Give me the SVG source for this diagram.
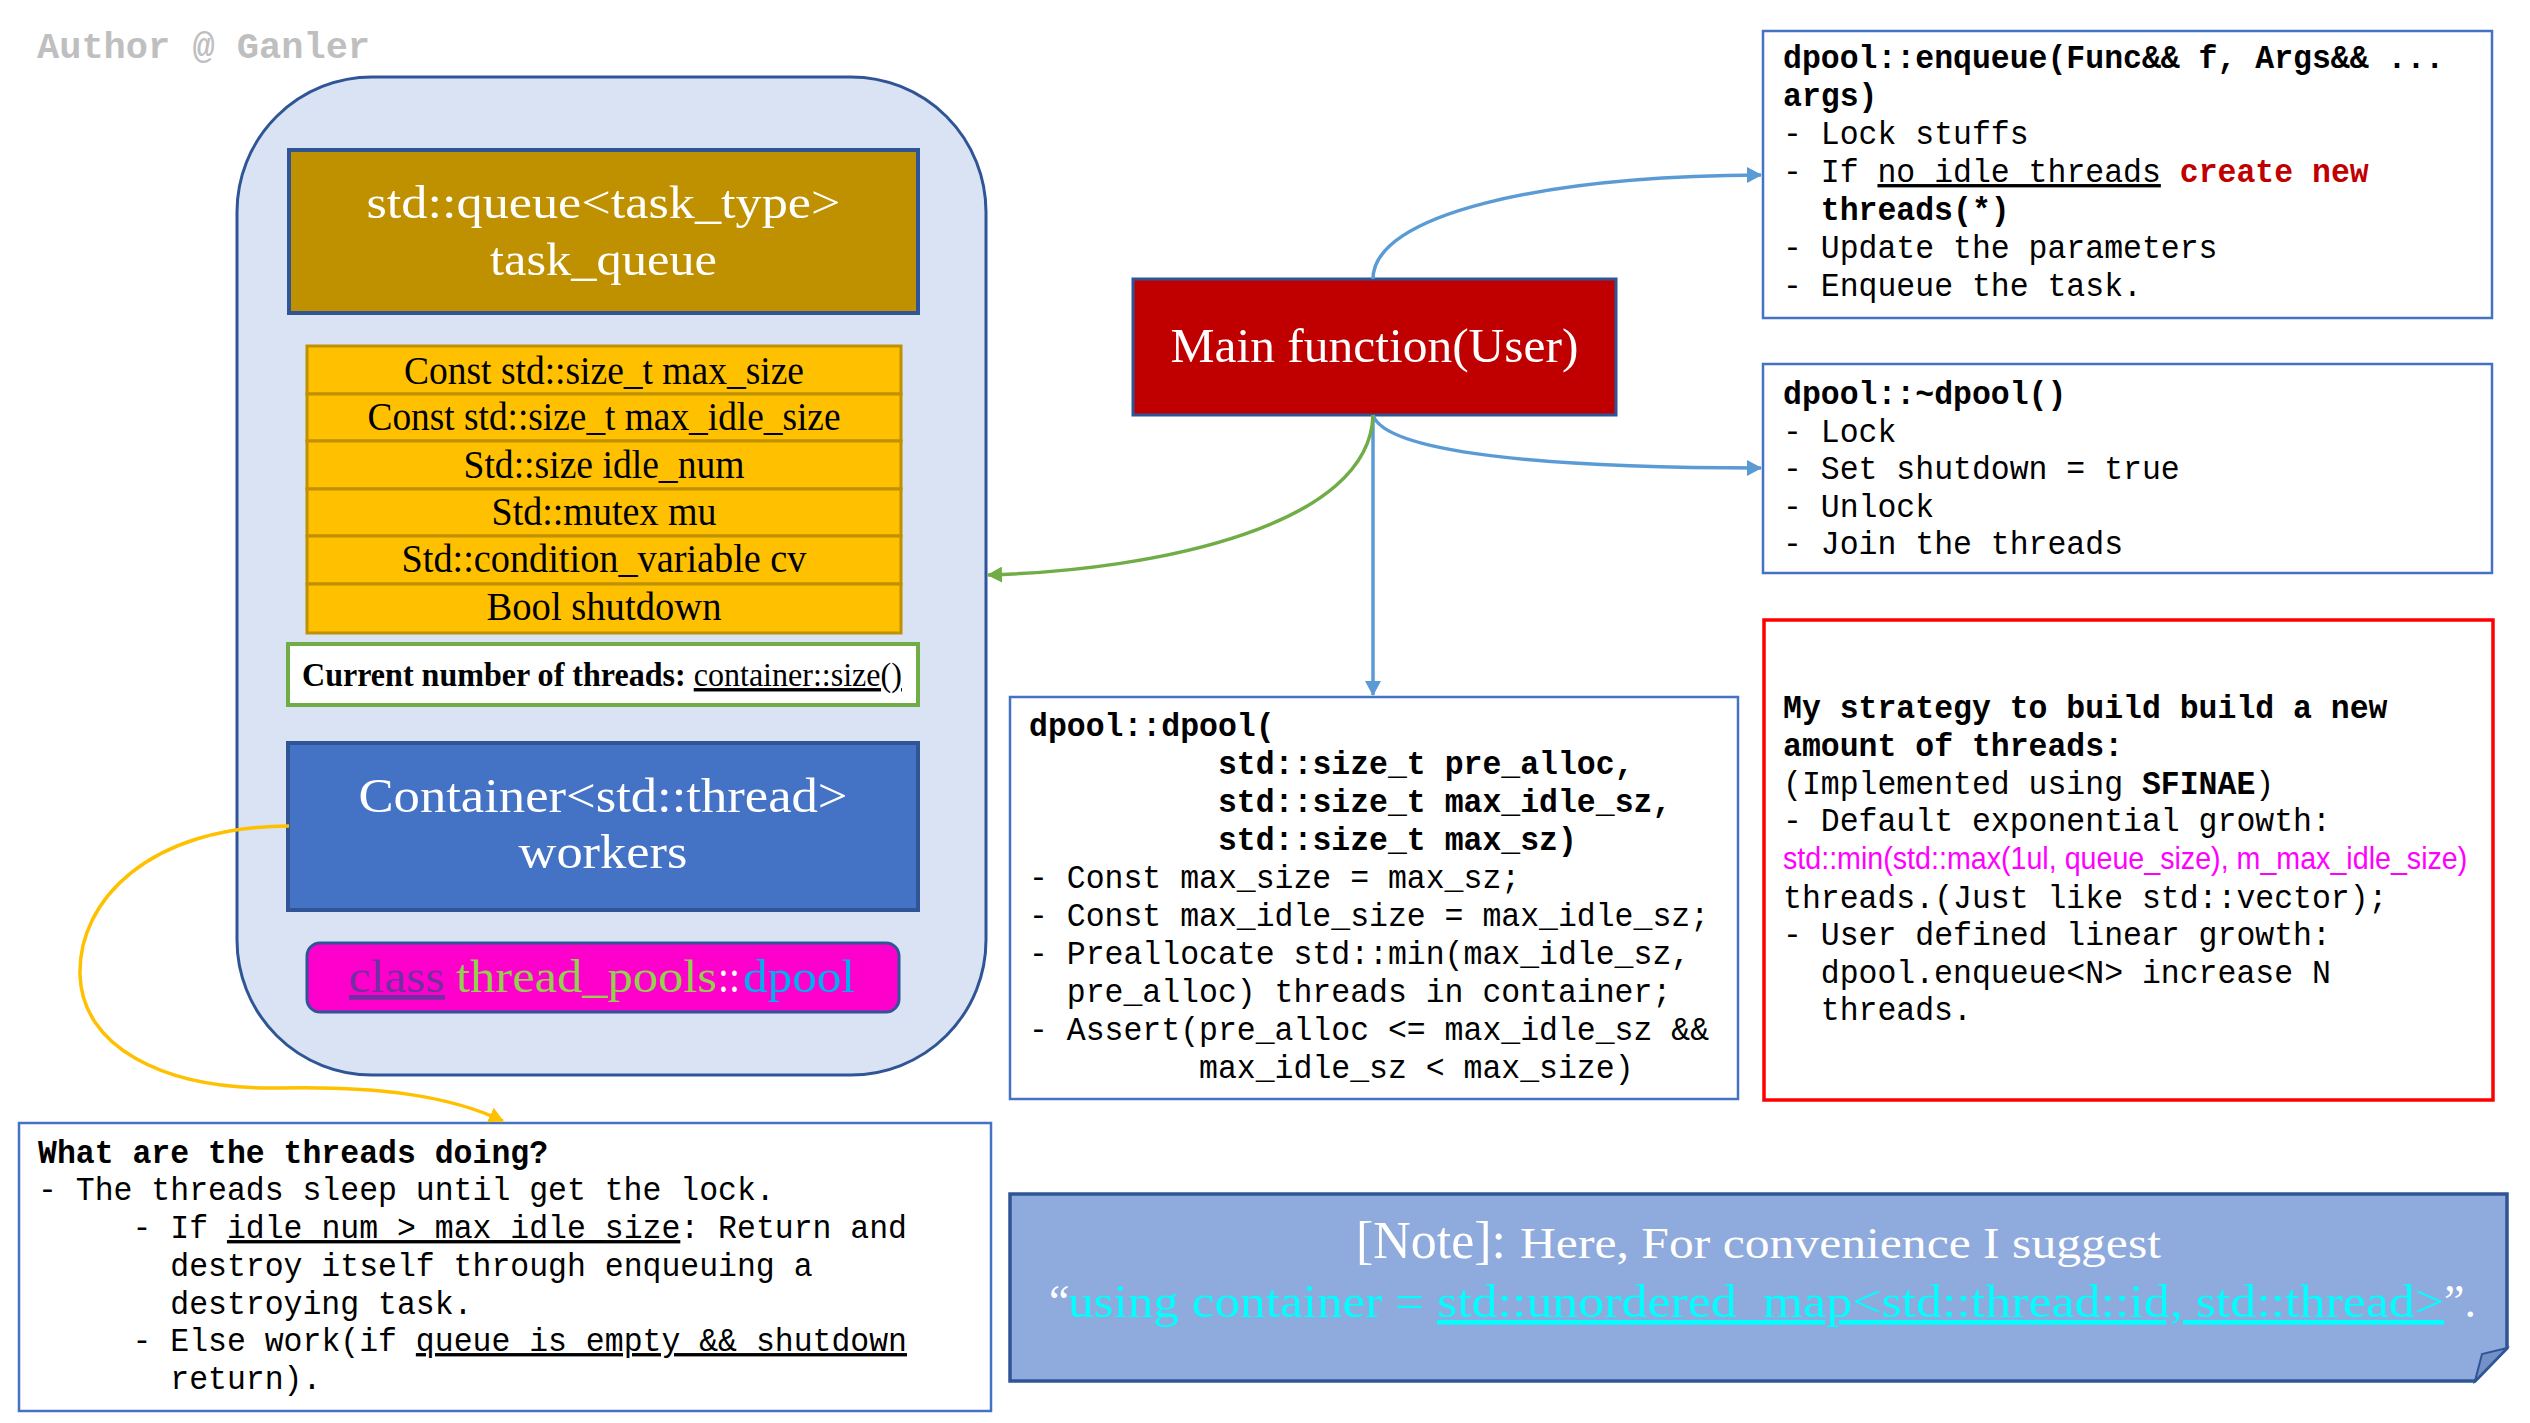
<svg xmlns="http://www.w3.org/2000/svg" width="2530" height="1423" viewBox="0 0 2530 1423">
<style>
.mono{font-family:"Liberation Mono","Courier New",monospace;font-size:33.5px;fill:#000}
.b{font-weight:bold}
.u{text-decoration:underline}
.serif{font-family:"Liberation Serif","Times New Roman",serif}
.note{fill:#fff}
.box{fill:#fff;stroke:#4472c4;stroke-width:2.5}
.conn{fill:none;stroke-width:3.5}
</style>
<defs>
<marker id="ab" markerUnits="userSpaceOnUse" markerWidth="16" markerHeight="16" refX="14" refY="8" orient="auto"><path d="M0,0 L15,8 L0,16 z" fill="#5b9bd5"/></marker>
<marker id="ag" markerUnits="userSpaceOnUse" markerWidth="16" markerHeight="16" refX="14" refY="8" orient="auto"><path d="M0,0 L15,8 L0,16 z" fill="#70ad47"/></marker>
<marker id="ay" markerUnits="userSpaceOnUse" markerWidth="16" markerHeight="16" refX="14" refY="8" orient="auto"><path d="M0,0 L15,8 L0,16 z" fill="#ffc000"/></marker>
</defs>
<rect width="2530" height="1423" fill="#fff"/>
<text x="37" y="58" font-family="'Liberation Mono',monospace" font-weight="bold" font-size="37" fill="#bfbfbf">Author @ Ganler</text>

<g id="dpool-class">
<rect x="237" y="77" width="749" height="998" rx="135" ry="135" fill="#dae3f3" stroke="#2f5597" stroke-width="3"/>
</g>
<g id="task-queue">
<rect x="289" y="150" width="629" height="163" fill="#bf9000" stroke="#2f5597" stroke-width="4"/>
<text class="serif" x="603.5" y="218" font-size="47" fill="#fff" text-anchor="middle" textLength="474" lengthAdjust="spacingAndGlyphs">std::queue&lt;task_type&gt;</text>
<text class="serif" x="603.5" y="275" font-size="47" fill="#fff" text-anchor="middle" textLength="227" lengthAdjust="spacingAndGlyphs">task_queue</text>
</g>
<g id="members">
<g fill="#ffc000" stroke="#bf9000" stroke-width="3">
<rect x="307" y="346" width="594" height="48"/>
<rect x="307" y="394" width="594" height="47"/>
<rect x="307" y="441" width="594" height="48"/>
<rect x="307" y="489" width="594" height="47"/>
<rect x="307" y="536" width="594" height="48"/>
<rect x="307" y="584" width="594" height="49"/>
</g>
<g class="serif" font-size="39" fill="#000" text-anchor="middle">
<text x="604" y="384" textLength="400" lengthAdjust="spacingAndGlyphs">Const std::size_t max_size</text>
<text x="604" y="430" textLength="473" lengthAdjust="spacingAndGlyphs">Const std::size_t max_idle_size</text>
<text x="604" y="478" textLength="281" lengthAdjust="spacingAndGlyphs">Std::size idle_num</text>
<text x="604" y="525" textLength="225" lengthAdjust="spacingAndGlyphs">Std::mutex mu</text>
<text x="604" y="572" textLength="405" lengthAdjust="spacingAndGlyphs">Std::condition_variable cv</text>
<text x="604" y="620" textLength="235" lengthAdjust="spacingAndGlyphs">Bool shutdown</text>
</g>
</g>
<g id="thread-count">
<rect x="288" y="644" width="630" height="61" fill="#fff" stroke="#70ad47" stroke-width="4"/>
<g transform="translate(302 0) scale(0.943 1)">
<text class="serif" x="0" y="686" font-size="34" fill="#000"><tspan class="b">Current number of threads: </tspan><tspan class="u">container::size()</tspan></text>
</g>
</g>
<g id="workers">
<rect x="288" y="743" width="630" height="167" fill="#4472c4" stroke="#2f5597" stroke-width="4"/>
<text class="serif" x="603" y="812" font-size="48" fill="#fff" text-anchor="middle" textLength="489" lengthAdjust="spacingAndGlyphs">Container&lt;std::thread&gt;</text>
<text class="serif" x="603" y="868" font-size="48" fill="#fff" text-anchor="middle" textLength="169" lengthAdjust="spacingAndGlyphs">workers</text>
</g>
<g id="class-name">
<rect x="307" y="943" width="592" height="69" rx="13" fill="#ff00cc" stroke="#2f5597" stroke-width="3"/>
<g class="serif" font-size="47">
<text x="349" y="992" fill="#7030a0" class="u" textLength="96" lengthAdjust="spacingAndGlyphs">class</text>
<text x="456" y="992" fill="#92d050" textLength="261" lengthAdjust="spacingAndGlyphs">thread_pools</text>
<text x="718" y="992" fill="#ffffff" textLength="22" lengthAdjust="spacingAndGlyphs">::</text>
<text x="743" y="992" fill="#00b0f0" textLength="112" lengthAdjust="spacingAndGlyphs">dpool</text>
</g>
</g>

<g id="main">
<rect x="1133" y="279" width="483" height="136" fill="#c00000" stroke="#2f5597" stroke-width="3"/>
<text class="serif" x="1374.5" y="362" font-size="49" fill="#fff" text-anchor="middle" textLength="408" lengthAdjust="spacingAndGlyphs">Main function(User)</text>
</g>

<g id="enqueue">
<rect class="box" x="1763" y="31" width="729" height="287"/>
<g transform="translate(1783 0) scale(0.94 1)">
<text class="mono b" x="0" y="68">dpool::enqueue(Func&amp;&amp; f, Args&amp;&amp; ...</text>
<text class="mono b" x="0" y="106">args)</text>
<text class="mono" x="0" y="144">- Lock stuffs</text>
<text class="mono" x="0" y="182">- If <tspan class="u">no idle threads</tspan> <tspan class="b" fill="#c00000">create new</tspan></text>
<text class="mono b" x="40.2" y="220" fill="#c00000">threads(*)</text>
<text class="mono" x="0" y="258">- Update the parameters</text>
<text class="mono" x="0" y="296">- Enqueue the task.</text>
</g>
</g>

<g id="destructor">
<rect class="box" x="1763" y="364" width="729" height="209"/>
<g transform="translate(1783 0) scale(0.94 1)">
<text class="mono b" x="0" y="404">dpool::~dpool()</text>
<text class="mono" x="0" y="442">- Lock</text>
<text class="mono" x="0" y="479">- Set shutdown = true</text>
<text class="mono" x="0" y="517">- Unlock</text>
<text class="mono" x="0" y="554">- Join the threads</text>
</g>
</g>

<g id="strategy">
<rect x="1764" y="620" width="729" height="480" fill="#fff" stroke="#ff0000" stroke-width="3.5"/>
<g transform="translate(1783 0) scale(0.94 1)">
<text class="mono b" x="0" y="718">My strategy to build build a new</text>
<text class="mono b" x="0" y="756">amount of threads:</text>
<text class="mono" x="0" y="794">(Implemented using <tspan class="b">SFINAE</tspan>)</text>
<text class="mono" x="0" y="831">- Default exponential growth:</text>
<text class="mono" x="0" y="908">threads.(Just like std::vector);</text>
<text class="mono" x="0" y="945">- User defined linear growth:</text>
<text class="mono" x="40.2" y="983">dpool.enqueue&lt;N&gt; increase N</text>
<text class="mono" x="40.2" y="1020">threads.</text>
</g>
<g transform="translate(1783 0) scale(0.895 1)">
<text x="0" y="869" font-family="'Liberation Sans',Arial,sans-serif" font-size="32" fill="#ff00ff">std::min(std::max(1ul, queue_size), m_max_idle_size)</text>
</g>
</g>

<g id="constructor">
<rect class="box" x="1010" y="697" width="728" height="402"/>
<g transform="translate(1029 0) scale(0.94 1)">
<text class="mono b" x="0" y="736">dpool::dpool(</text>
<text class="mono b" x="201" y="774">std::size_t pre_alloc,</text>
<text class="mono b" x="201" y="812">std::size_t max_idle_sz,</text>
<text class="mono b" x="201" y="850">std::size_t max_sz)</text>
<text class="mono" x="0" y="888">- Const max_size = max_sz;</text>
<text class="mono" x="0" y="926">- Const max_idle_size = max_idle_sz;</text>
<text class="mono" x="0" y="964">- Preallocate std::min(max_idle_sz,</text>
<text class="mono" x="40.2" y="1002">pre_alloc) threads in container;</text>
<text class="mono" x="0" y="1040">- Assert(pre_alloc &lt;= max_idle_sz &amp;&amp;</text>
<text class="mono" x="180.9" y="1078">max_idle_sz &lt; max_size)</text>
</g>
</g>

<g id="threads-doing">
<rect class="box" x="19" y="1123" width="972" height="288"/>
<g transform="translate(38 0) scale(0.94 1)">
<text class="mono b" x="0" y="1163">What are the threads doing?</text>
<text class="mono" x="0" y="1200">- The threads sleep until get the lock.</text>
<text class="mono" x="100.5" y="1238">- If <tspan class="u">idle_num &gt; max_idle_size</tspan>: Return and</text>
<text class="mono" x="140.7" y="1276">destroy itself through enqueuing a</text>
<text class="mono" x="140.7" y="1314">destroying task.</text>
<text class="mono" x="100.5" y="1351">- Else work(if <tspan class="u">queue is empty &amp;&amp; shutdown</tspan></text>
<text class="mono" x="140.7" y="1389">return).</text>
</g>
</g>

<g id="note">
<polygon points="1010,1194 2507,1194 2507,1348 2475,1381 1010,1381" fill="#8faadc" stroke="#2f5597" stroke-width="3.5"/>
<polygon points="2475,1381 2482,1354 2507,1348" fill="#7391c7" stroke="#2f5597" stroke-width="2"/>
<text class="serif note" x="1356" y="1258" font-size="52" textLength="150" lengthAdjust="spacingAndGlyphs">[Note]:</text>
<text class="serif note" x="1520" y="1258" font-size="44" textLength="641" lengthAdjust="spacingAndGlyphs">Here, For convenience I suggest</text>
<g class="serif" font-size="46">
<text x="1049" y="1317" fill="#fff">“</text>
<text x="1068" y="1317" fill="#00ffff" textLength="356" lengthAdjust="spacingAndGlyphs">using container =</text>
<text x="1437" y="1317" fill="#00ffff" class="u" textLength="1007" lengthAdjust="spacingAndGlyphs">std::unordered_map&lt;std::thread::id, std::thread&gt;</text>
<text x="2444" y="1317" fill="#fff">”.</text>
</g>
</g>

<g id="connectors">
<path class="conn" stroke="#5b9bd5" d="M1373,279 C1373,215 1540,176 1761,175" marker-end="url(#ab)"/>
<path class="conn" stroke="#5b9bd5" d="M1373,415 C1385,452 1540,468 1761,468" marker-end="url(#ab)"/>
<path class="conn" stroke="#5b9bd5" d="M1373,415 L1373,695" marker-end="url(#ab)"/>
<path class="conn" stroke="#70ad47" d="M1373,415 C1370,525 1160,570 988,575" marker-end="url(#ag)"/>
<path class="conn" stroke="#ffc000" d="M289,826 C150,826 78,900 80,975 C82,1045 160,1090 280,1088 C380,1086 450,1096 503,1121" marker-end="url(#ay)"/>
</g>
</svg>
